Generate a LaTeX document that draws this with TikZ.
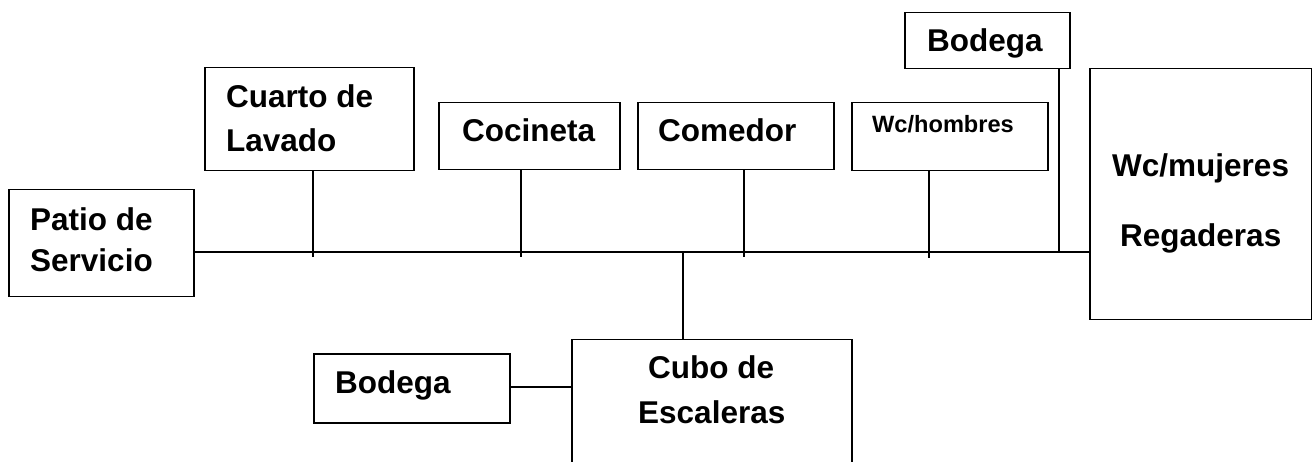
\documentclass[tikz,border=0pt]{standalone}
\usepackage{fontspec}
\setmainfont{Liberation Sans}
\begin{document}
\begin{tikzpicture}[x=1pt,y=-1pt,
  room/.style={draw=black,line width=1.5pt,inner sep=0pt,anchor=north west},
  wire/.style={draw=black,line width=1.5pt},
  big/.style={inner sep=0pt,anchor=base west,font=\bfseries\fontsize{31.5}{38}\selectfont},
  small/.style={inner sep=0pt,anchor=base west,font=\bfseries\fontsize{23.6}{28}\selectfont}]
\useasboundingbox (0,0) rectangle (1312,462);
\clip (0,0) rectangle (1312,462);
% boxes
\node[room,minimum width=185pt,minimum height=107pt] (patio) at (8,189) {};
\node[room,minimum width=209pt,minimum height=103pt] (cuarto) at (204,67) {};
\node[room,minimum width=181pt,minimum height=67pt] (cocina) at (438,102) {};
\node[room,minimum width=196pt,minimum height=67pt] (comedor) at (637,102) {};
\node[room,minimum width=196pt,minimum height=68pt] (wch) at (851,102) {};
\node[room,minimum width=165pt,minimum height=56pt] (bodegaA) at (904,12) {};
\node[room,minimum width=222pt,minimum height=251pt] (wcm) at (1089,68) {};
\node[room,minimum width=280pt,minimum height=160pt] (cubo) at (571,339) {};
\node[room,minimum width=196pt,minimum height=69pt] (bodegaB) at (313,353) {};
% texts
\node[big] (t1) at (30,231) {Patio de};
\node[big] (t2) at (30,272) {Servicio};
\node[big] (t3) at (226,108) {Cuarto de};
\node[big] (t4) at (226,152) {Lavado};
\node[big] (t5) at (462,142) {Cocineta};
\node[big] (t6) at (658,142) {Comedor};
\node[small] (t7) at (872,133) {Wc/hombres};
\node[big] (t8) at (927,52) {Bodega};
\node[big] (t9) at (1112,177) {Wc/mujeres};
\node[big] (t10) at (1120,247) {Regaderas};
\node[big] (t11) at (648,378) {Cubo de};
\node[big] (t12) at (638,423) {Escaleras};
\node[big] (t13) at (335,393) {Bodega};
% junction coordinates
\coordinate (main) at (193,252);
\coordinate (jc) at (313,257);
\coordinate (jk) at (521,257);
\coordinate (jm) at (744,257);
\coordinate (jh) at (929,258);
\coordinate (jb) at (1059,252);
\coordinate (ju) at (683,252);
\coordinate (jl) at (509,387);
% connectors
\draw[wire] (patio.east |- main) -- (wcm.west |- main);
\draw[wire] (cuarto.south -| jc) -- (jc);
\draw[wire] (cocina.south -| jk) -- (jk);
\draw[wire] (comedor.south -| jm) -- (jm);
\draw[wire] (wch.south -| jh) -- (jh);
\draw[wire] (bodegaA.south -| jb) -- (jb);
\draw[wire] (ju) -- (cubo.north -| ju);
\draw[wire] (bodegaB.east |- jl) -- (cubo.west |- jl);
\end{tikzpicture}
\end{document}
